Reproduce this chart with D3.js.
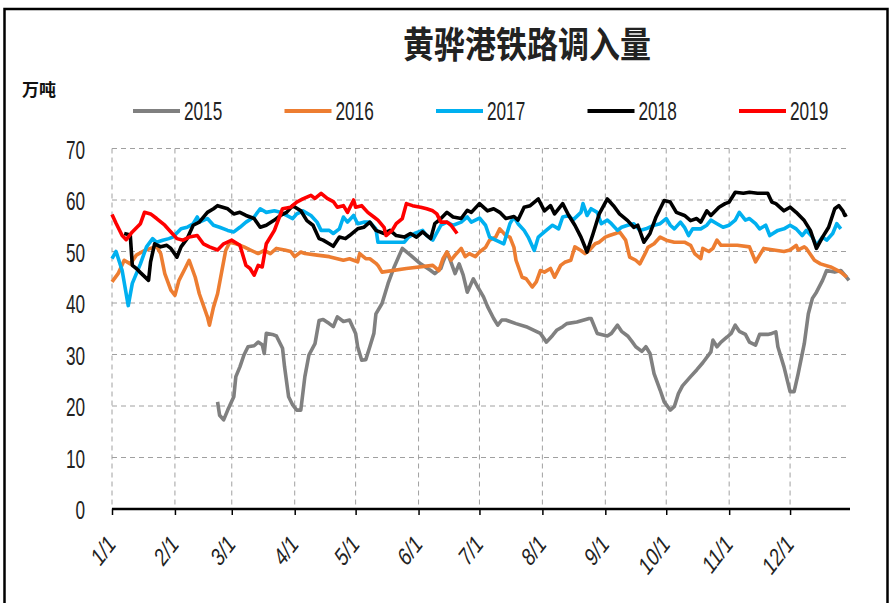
<!DOCTYPE html>
<html><head><meta charset="utf-8">
<script src="https://cdn.jsdelivr.net/npm/d3@7/dist/d3.min.js"></script>
<style>
body{margin:0;background:#fff;}
svg{display:block;}
</style></head>
<body>
<svg id="chart" width="890" height="603"></svg>
<script>
// ---- data ----
const title = "黄骅港铁路调入量";
const unitLabel = "万吨";
const years = ["2015","2016","2017","2018","2019"];
const colors = ["#808080","#ED7D31","#00B0F0","#000000","#FF0000"];
const monthStarts = [0,31,59,90,120,151,181,212,243,273,304,334];
const monthLabels = ["1/1","2/1","3/1","4/1","5/1","6/1","7/1","8/1","9/1","10/1","11/1","12/1"];
const yTicks = [0,10,20,30,40,50,60,70];

// [day of year, value]
const s2015 = [[52,20.8],[53,18.2],[55,17.3],[57,19.2],[60,21.8],[61,25.7],[63,27.6],[65,29.9],[67,31.5],[70,31.7],[72,32.4],[74,31.9],[75,30.2],[76,34.1],[79,33.9],[81,33.6],[84,31.2],[85,27.6],[87,21.8],[89,20.2],[91,19.2],[93,19.2],[95,25.7],[97,29.9],[100,32.1],[102,36.6],[104,36.8],[107,36.0],[109,35.4],[111,37.3],[114,36.4],[117,36.7],[120,34.1],[121,31.5],[123,28.9],[125,29.0],[127,31.5],[129,34.1],[130,37.9],[133,39.9],[136,43.8],[139,47.0],[143,50.6],[147,49.3],[152,47.6],[157,46.3],[159,45.7],[162,46.7],[163,47.9],[165,49.9],[167,47.9],[169,45.7],[171,47.6],[173,45.4],[175,42.1],[178,44.7],[180,43.2],[183,41.2],[185,39.3],[188,37.0],[190,35.7],[192,36.7],[194,36.7],[199,36.0],[204,35.4],[211,34.1],[214,32.4],[217,33.7],[219,34.7],[222,35.4],[224,36.0],[229,36.3],[235,37.0],[236,37.0],[239,34.1],[241,33.9],[244,33.6],[246,34.1],[249,35.7],[251,34.5],[254,33.6],[256,32.6],[258,31.5],[261,30.6],[263,31.5],[265,30.2],[267,26.3],[270,23.1],[272,20.8],[275,19.2],[277,19.9],[279,22.4],[281,23.9],[285,25.7],[288,27.0],[291,28.4],[295,30.5],[296,32.8],[298,31.5],[300,32.4],[303,33.4],[305,34.1],[307,35.7],[309,34.5],[312,33.9],[314,32.4],[317,31.8],[319,33.9],[323,33.9],[325,34.1],[327,34.4],[328,31.5],[331,27.6],[333,24.4],[334,22.8],[336,22.8],[338,26.3],[341,32.1],[343,37.9],[345,40.9],[347,42.1],[350,44.4],[352,46.3],[356,46.0],[359,46.3],[361,45.4],[363,44.4]];
const s2016 = [[0,44.1],[3,45.7],[6,48.3],[9,47.6],[12,49.3],[16,50.2],[19,50.6],[22,51.0],[24,49.6],[26,45.7],[29,42.5],[31,41.5],[33,44.4],[36,46.7],[38,48.3],[41,45.0],[43,41.8],[47,37.3],[48,35.7],[50,39.2],[52,41.8],[54,46.0],[56,50.2],[58,51.8],[61,51.5],[65,50.9],[68,50.3],[72,49.6],[75,50.2],[78,49.6],[81,50.6],[85,50.3],[88,50.0],[90,49.0],[93,49.9],[95,49.6],[101,49.3],[107,49.0],[114,48.3],[117,48.6],[121,48.0],[122,49.6],[125,48.6],[127,48.6],[130,47.7],[131,47.3],[133,46.0],[145,46.7],[158,47.3],[161,46.3],[163,48.6],[165,49.9],[167,48.3],[169,49.3],[172,50.6],[174,49.0],[176,49.6],[179,49.0],[181,49.9],[184,50.8],[186,52.2],[189,52.8],[191,54.4],[194,53.1],[196,52.8],[198,50.8],[199,48.3],[202,45.0],[204,44.7],[207,43.1],[209,44.1],[211,46.3],[213,46.0],[216,46.7],[218,45.0],[221,47.3],[223,47.9],[226,48.3],[228,50.9],[231,50.2],[233,49.6],[235,50.2],[238,51.5],[240,51.8],[243,52.8],[245,53.1],[248,53.5],[250,53.8],[253,52.2],[255,48.9],[258,48.3],[260,47.6],[263,49.9],[264,50.8],[267,51.5],[270,52.8],[273,52.2],[277,51.8],[282,51.8],[285,51.2],[287,49.6],[290,48.6],[291,50.6],[294,50.0],[296,50.6],[298,52.2],[300,51.2],[308,51.2],[314,50.9],[317,48.0],[319,49.3],[321,50.6],[331,50.0],[334,50.3],[337,51.2],[338,50.3],[341,50.9],[342,50.6],[346,48.3],[349,47.6],[354,47.0],[359,46.0],[362,45.0]];
const s2017 = [[0,48.6],[2,50.0],[5,46.3],[8,39.5],[10,43.8],[14,47.6],[17,50.9],[20,52.5],[22,51.8],[25,52.2],[28,52.5],[30,52.8],[34,54.4],[37,54.7],[40,55.4],[42,56.7],[43,55.7],[47,56.4],[50,55.1],[53,54.7],[57,54.1],[60,53.8],[63,54.7],[66,55.7],[70,56.7],[73,58.3],[76,57.6],[80,57.9],[83,57.6],[86,57.0],[89,56.4],[91,57.3],[94,57.9],[98,57.0],[101,55.7],[103,54.1],[107,54.1],[109,53.5],[112,54.4],[114,56.7],[116,55.7],[119,57.0],[121,55.4],[124,55.7],[127,55.7],[130,54.4],[131,51.8],[144,51.8],[146,52.8],[149,53.5],[153,54.1],[155,53.1],[158,52.2],[162,55.1],[165,55.7],[168,55.1],[172,55.7],[175,56.7],[177,55.7],[181,56.5],[184,55.1],[186,52.8],[189,52.2],[193,51.5],[196,55.4],[198,56.7],[200,55.4],[203,54.1],[205,52.8],[208,50.2],[210,52.8],[213,53.8],[217,55.1],[220,54.4],[222,56.7],[225,57.0],[227,56.1],[231,57.6],[232,59.3],[234,57.0],[236,58.3],[239,57.6],[241,55.4],[244,56.1],[246,55.4],[249,54.1],[251,54.7],[254,55.1],[257,55.4],[260,54.1],[263,54.4],[267,55.1],[270,55.4],[273,56.4],[275,55.1],[277,54.4],[280,55.7],[282,54.7],[284,53.1],[286,54.4],[290,54.4],[293,55.1],[295,56.1],[298,55.4],[301,54.7],[304,55.1],[307,56.1],[309,57.6],[312,56.1],[314,56.4],[317,55.4],[319,54.4],[322,55.1],[324,53.1],[328,54.1],[331,54.4],[334,55.1],[337,54.4],[340,53.1],[342,54.1],[345,52.8],[347,51.2],[350,52.8],[352,52.2],[355,53.5],[357,55.4],[359,54.4]];
const s2018 = [[6,53.5],[9,53.2],[10,47.3],[12,46.7],[14,45.9],[18,44.4],[19,48.0],[21,51.5],[24,50.9],[27,51.2],[29,50.6],[32,48.9],[34,50.9],[37,52.5],[40,55.1],[43,55.7],[47,57.6],[50,58.3],[52,58.9],[57,58.3],[60,57.3],[63,57.6],[66,57.0],[70,56.4],[73,54.7],[76,55.1],[80,56.1],[83,57.0],[86,57.6],[89,58.9],[93,57.9],[96,56.0],[99,55.1],[102,52.5],[104,52.2],[107,51.5],[109,51.0],[112,52.8],[115,52.5],[117,53.1],[121,54.4],[124,54.7],[127,55.7],[130,54.1],[134,53.5],[137,54.1],[140,53.1],[144,52.8],[147,53.5],[150,52.8],[153,53.8],[157,52.5],[159,55.4],[162,56.4],[165,57.6],[168,56.7],[172,56.4],[175,58.0],[177,57.6],[181,59.3],[185,57.9],[188,58.3],[191,57.6],[194,56.4],[198,56.8],[200,56.1],[203,58.6],[206,58.9],[210,60.2],[213,57.9],[216,58.9],[218,57.3],[222,59.3],[225,57.0],[228,55.1],[231,52.8],[234,49.9],[237,53.5],[240,57.3],[244,60.2],[247,58.9],[250,57.3],[254,56.0],[257,54.7],[259,55.1],[262,51.8],[265,53.5],[268,56.7],[272,59.9],[275,59.6],[278,57.6],[282,57.0],[285,56.0],[288,56.4],[290,55.7],[293,57.9],[295,57.0],[299,58.6],[302,59.3],[304,59.6],[307,61.5],[311,61.3],[314,61.5],[318,61.3],[323,61.3],[325,59.6],[327,59.3],[331,57.9],[334,58.6],[337,57.6],[341,56.0],[344,54.1],[347,50.6],[350,52.8],[353,54.7],[356,58.3],[358,58.9],[360,57.9],[361,57.0],[362,57.2]];
const s2019 = [[0,57.2],[2,55.5],[5,53.1],[7,52.3],[10,53.8],[14,55.4],[16,57.6],[19,57.3],[22,56.4],[26,55.1],[29,53.8],[32,52.5],[35,52.2],[38,52.8],[42,53.1],[45,51.5],[48,50.9],[52,50.3],[55,51.5],[59,52.2],[63,51.2],[66,47.3],[68,46.7],[70,45.4],[72,47.3],[74,47.0],[76,51.5],[80,54.1],[84,58.3],[88,58.6],[91,59.6],[94,60.2],[98,60.9],[100,60.3],[103,61.3],[106,60.3],[109,59.7],[111,58.6],[114,58.9],[116,57.6],[119,60.0],[120,58.6],[123,58.9],[126,57.6],[129,56.7],[131,56.1],[134,54.7],[135,53.1],[138,54.1],[140,55.4],[143,56.4],[145,59.3],[148,58.9],[152,58.6],[155,58.3],[158,57.9],[160,57.3],[162,55.7],[165,55.7],[167,55.1],[170,53.5]];
const seriesList = [s2015, s2016, s2017, s2018, s2019];

// ---- drawing ----
const svg = d3.select("#chart");
const x = d3.scaleLinear().domain([0,365]).range([112,853]);
const y = d3.scaleLinear().domain([0,70]).range([509,148.5]);
const numFont = "'Liberation Sans', Arial, sans-serif";

// frame
svg.append("rect").attr("x",4.5).attr("y",9).attr("width",883).attr("height",600)
  .attr("fill","none").attr("stroke","#000").attr("stroke-width",2.5);

// title
svg.append("text").text(title)
  .attr("transform","translate(527,45) scale(1,1.18)")
  .attr("text-anchor","middle").attr("dy","0.36em")
  .style("font-family","'Noto Sans CJK SC', sans-serif").style("font-size","31px").style("font-weight","bold")
  .attr("fill","#222");

// unit
svg.append("text").text(unitLabel).attr("x",22).attr("y",90).attr("dy","0.36em")
  .style("font-family","'Noto Sans CJK SC', sans-serif").style("font-size","17px").style("font-weight","bold")
  .attr("fill","#111");

// legend
const leg = svg.append("g");
years.forEach((yr,i)=>{
  const lx = 133 + i*151.5;
  leg.append("line").attr("x1",lx).attr("x2",lx+47).attr("y1",111).attr("y2",111)
    .attr("stroke",colors[i]).attr("stroke-width",4);
  leg.append("text").text(yr).attr("transform",`translate(${lx+51},111) scale(0.86,1.3)`)
    .attr("dy","0.36em").style("font-family",numFont).style("font-size","20px").attr("fill","#222");
});

// gridlines
const grid = svg.append("g").attr("stroke","#A0A0A0").attr("stroke-width",1).attr("stroke-dasharray","5,4");
grid.selectAll("line.h").data(yTicks.filter(d=>d>0)).join("line").attr("class","h")
  .attr("x1",x(0)).attr("x2",x(365)-4).attr("y1",d=>y(d)).attr("y2",d=>y(d));
grid.selectAll("line.v").data(monthStarts).join("line").attr("class","v")
  .attr("x1",d=>x(d)).attr("x2",d=>x(d)).attr("y1",y(70)).attr("y2",y(0));

// y axis labels
const yAxis = svg.append("g").attr("transform",`translate(${x(0)},0)`)
  .call(d3.axisLeft(y).tickValues(yTicks).tickSize(0).tickPadding(0));
yAxis.select(".domain").remove();
yAxis.selectAll("text").attr("x",null).attr("dy","0.36em")
  .attr("transform","translate(-27,0) scale(0.86,1.33)")
  .style("font-family",numFont).style("font-size","20px").attr("fill","#222");

// series
const line = d3.line().x(d=>x(d[0])).y(d=>y(d[1]));
seriesList.forEach((s,i)=>{
  svg.append("path").datum(s).attr("d",line).attr("fill","none")
    .attr("stroke",colors[i]).attr("stroke-width",3.6).attr("stroke-linejoin","round");
});

// x axis
const xAxis = svg.append("g").attr("transform",`translate(0,${y(0)})`)
  .call(d3.axisBottom(x).tickValues(monthStarts).tickSize(6).tickFormat(""));
xAxis.select(".domain").attr("stroke","#000").attr("stroke-width",2.5).attr("d",`M${x(0)},0H${x(365)-3}`);
xAxis.selectAll(".tick line").attr("stroke","#000").attr("stroke-width",1.5);
xAxis.selectAll(".tick").append("text").text((d,i)=>monthLabels[i])
  .attr("transform","translate(-1,30) scale(1,1.3) rotate(-45) scale(0.86,1)")
  .attr("text-anchor","end").attr("dy","0.36em")
  .style("font-family",numFont).style("font-size","20px").attr("fill","#222");
</script>
</body></html>
